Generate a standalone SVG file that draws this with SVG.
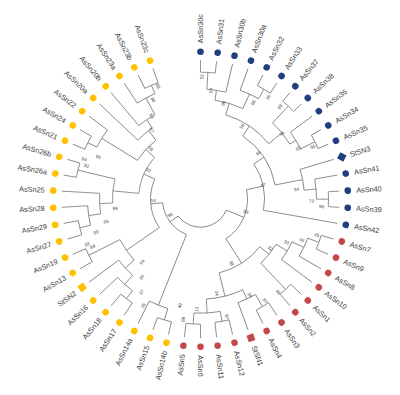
<svg xmlns="http://www.w3.org/2000/svg" width="400" height="395" viewBox="0 0 400 395">
<style>
.c line,.c circle{stroke:#7a7a7a;stroke-width:0.8;fill:none}
.lb{font-family:"Liberation Sans",Arial,sans-serif;font-size:7.3px;fill:#3a3a3a}
.r text{text-anchor:end}
.bs{font-family:"Liberation Sans",Arial,sans-serif;font-size:4.6px;fill:#444;text-anchor:middle}
.Y{fill:#FFC000}.R{fill:#C4484A}.B{fill:#1F3F7F}
</style>
<rect width="400" height="395" fill="#fff"/>
<g transform="translate(200.5,199.2)">
<g id="connectors" class="c">
<!-- radial stems of internal nodes -->
<line x1="110" x2="127" transform="rotate(-86.667)"/>
<line x1="100" x2="110" transform="rotate(-81.667)"/>
<line x1="116" x2="127" transform="rotate(-60)"/>
<line x1="100" x2="116" transform="rotate(-65)"/>
<line x1="88" x2="100" transform="rotate(-73.333)"/>
<line x1="105" x2="128" transform="rotate(-46.667)"/>
<line x1="112" x2="128" transform="rotate(-26.667)"/>
<line x1="105" x2="112" transform="rotate(-31.667)"/>
<line x1="88" x2="105" transform="rotate(-39.167)"/>
<line x1="76" x2="88" transform="rotate(-56.25)"/>
<line x1="116" x2="128" transform="rotate(0)"/>
<line x1="104" x2="116" transform="rotate(-5)"/>
<line x1="76" x2="104" transform="rotate(-10.833)"/>
<line x1="64" x2="76" transform="rotate(-33.542)"/>
<line x1="47" x2="64" transform="rotate(-11.771)"/>
<line x1="28" x2="47" transform="rotate(22.76)"/>
<line x1="114" x2="126" transform="rotate(20)"/>
<line x1="101" x2="114" transform="rotate(25)"/>
<line x1="88" x2="101" transform="rotate(30.833)"/>
<line x1="88" x2="124" transform="rotate(46.667)"/>
<line x1="76" x2="88" transform="rotate(38.75)"/>
<line x1="110" x2="124" transform="rotate(60)"/>
<line x1="100" x2="110" transform="rotate(65)"/>
<line x1="114" x2="124" transform="rotate(80)"/>
<line x1="114" x2="125" transform="rotate(93.333)"/>
<line x1="100" x2="114" transform="rotate(86.667)"/>
<line x1="76" x2="100" transform="rotate(75.833)"/>
<line x1="47" x2="76" transform="rotate(57.292)"/>
<line x1="114" x2="126" transform="rotate(106.667)"/>
<line x1="38" x2="114" transform="rotate(111.667)"/>
<line x1="114" x2="124" transform="rotate(126.667)"/>
<line x1="102" x2="114" transform="rotate(131.667)"/>
<line x1="90" x2="102" transform="rotate(137.5)"/>
<line x1="90" x2="125" transform="rotate(153.333)"/>
<line x1="50" x2="90" transform="rotate(145.417)"/>
<line x1="113" x2="124" transform="rotate(166.667)"/>
<line x1="101" x2="113" transform="rotate(171.667)"/>
<line x1="88" x2="101" transform="rotate(177.5)"/>
<line x1="88" x2="126" transform="rotate(193.333)"/>
<line x1="62" x2="88" transform="rotate(185.417)"/>
<line x1="116" x2="126" transform="rotate(206.667)"/>
<line x1="74" x2="116" transform="rotate(211.667)"/>
<line x1="115" x2="124" transform="rotate(246.667)"/>
<line x1="96" x2="115" transform="rotate(241.667)"/>
<line x1="86" x2="96" transform="rotate(235.833)"/>
<line x1="74" x2="86" transform="rotate(232.917)"/>
<line x1="62" x2="74" transform="rotate(222.292)"/>
<line x1="50" x2="62" transform="rotate(203.854)"/>
<line x1="38" x2="50" transform="rotate(174.635)"/>
<line x1="28" x2="38" transform="rotate(143.151)"/>
<!-- terminal branches -->
<line x1="127" x2="139" transform="rotate(-90)"/>
<line x1="127" x2="139" transform="rotate(-83.333)"/>
<line x1="110" x2="139" transform="rotate(-76.667)"/>
<line x1="116" x2="139" transform="rotate(-70)"/>
<line x1="127" x2="139" transform="rotate(-63.333)"/>
<line x1="127" x2="139" transform="rotate(-56.667)"/>
<line x1="128" x2="139" transform="rotate(-50)"/>
<line x1="128" x2="139" transform="rotate(-43.333)"/>
<line x1="112" x2="139" transform="rotate(-36.667)"/>
<line x1="128" x2="139" transform="rotate(-30)"/>
<line x1="128" x2="139" transform="rotate(-23.333)"/>
<line x1="104" x2="139" transform="rotate(-16.667)"/>
<line x1="116" x2="139" transform="rotate(-10)"/>
<line x1="128" x2="139" transform="rotate(-3.333)"/>
<line x1="128" x2="139" transform="rotate(3.333)"/>
<line x1="64" x2="139" transform="rotate(10)"/>
<line x1="126" x2="139" transform="rotate(16.667)"/>
<line x1="126" x2="139" transform="rotate(23.333)"/>
<line x1="114" x2="139" transform="rotate(30)"/>
<line x1="101" x2="139" transform="rotate(36.667)"/>
<line x1="124" x2="139" transform="rotate(43.333)"/>
<line x1="124" x2="139" transform="rotate(50)"/>
<line x1="124" x2="139" transform="rotate(56.667)"/>
<line x1="124" x2="139" transform="rotate(63.333)"/>
<line x1="110" x2="139" transform="rotate(70)"/>
<line x1="124" x2="139" transform="rotate(76.667)"/>
<line x1="124" x2="139" transform="rotate(83.333)"/>
<line x1="125" x2="139" transform="rotate(90)"/>
<line x1="125" x2="139" transform="rotate(96.667)"/>
<line x1="126" x2="139" transform="rotate(103.333)"/>
<line x1="126" x2="139" transform="rotate(110)"/>
<line x1="114" x2="139" transform="rotate(116.667)"/>
<line x1="124" x2="139" transform="rotate(123.333)"/>
<line x1="124" x2="139" transform="rotate(130)"/>
<line x1="114" x2="139" transform="rotate(136.667)"/>
<line x1="102" x2="139" transform="rotate(143.333)"/>
<line x1="125" x2="139" transform="rotate(150)"/>
<line x1="125" x2="139" transform="rotate(156.667)"/>
<line x1="124" x2="139" transform="rotate(163.333)"/>
<line x1="124" x2="139" transform="rotate(170)"/>
<line x1="113" x2="139" transform="rotate(176.667)"/>
<line x1="101" x2="139" transform="rotate(183.333)"/>
<line x1="126" x2="139" transform="rotate(190)"/>
<line x1="126" x2="139" transform="rotate(196.667)"/>
<line x1="126" x2="139" transform="rotate(203.333)"/>
<line x1="126" x2="139" transform="rotate(210)"/>
<line x1="116" x2="139" transform="rotate(216.667)"/>
<line x1="86" x2="139" transform="rotate(223.333)"/>
<line x1="96" x2="139" transform="rotate(230)"/>
<line x1="115" x2="139" transform="rotate(236.667)"/>
<line x1="124" x2="139" transform="rotate(243.333)"/>
<line x1="124" x2="139" transform="rotate(250)"/>
<!-- arcs -->
<circle r="127" transform="rotate(-90)" stroke-dasharray="14.78 1000"/>
<circle r="110" transform="rotate(-86.667)" stroke-dasharray="19.2 1000"/>
<circle r="127" transform="rotate(-63.333)" stroke-dasharray="14.78 1000"/>
<circle r="116" transform="rotate(-70)" stroke-dasharray="20.25 1000"/>
<circle r="100" transform="rotate(-81.667)" stroke-dasharray="29.09 1000"/>
<circle r="128" transform="rotate(-50)" stroke-dasharray="14.89 1000"/>
<circle r="128" transform="rotate(-30)" stroke-dasharray="14.89 1000"/>
<circle r="112" transform="rotate(-36.667)" stroke-dasharray="19.55 1000"/>
<circle r="105" transform="rotate(-46.667)" stroke-dasharray="27.49 1000"/>
<circle r="88" transform="rotate(-73.333)" stroke-dasharray="52.48 1000"/>
<circle r="128" transform="rotate(-3.333)" stroke-dasharray="14.89 1000"/>
<circle r="116" transform="rotate(-10)" stroke-dasharray="20.25 1000"/>
<circle r="104" transform="rotate(-16.667)" stroke-dasharray="21.18 1000"/>
<circle r="76" transform="rotate(-56.25)" stroke-dasharray="60.24 1000"/>
<circle r="64" transform="rotate(-33.542)" stroke-dasharray="48.64 1000"/>
<circle r="47" transform="rotate(-11.771)" stroke-dasharray="56.65 1000"/>
<circle r="126" transform="rotate(16.667)" stroke-dasharray="14.66 1000"/>
<circle r="114" transform="rotate(20)" stroke-dasharray="19.9 1000"/>
<circle r="101" transform="rotate(25)" stroke-dasharray="20.57 1000"/>
<circle r="124" transform="rotate(43.333)" stroke-dasharray="14.43 1000"/>
<circle r="88" transform="rotate(30.833)" stroke-dasharray="24.32 1000"/>
<circle r="124" transform="rotate(56.667)" stroke-dasharray="14.43 1000"/>
<circle r="110" transform="rotate(60)" stroke-dasharray="19.2 1000"/>
<circle r="124" transform="rotate(76.667)" stroke-dasharray="14.43 1000"/>
<circle r="125" transform="rotate(90)" stroke-dasharray="14.55 1000"/>
<circle r="114" transform="rotate(80)" stroke-dasharray="26.53 1000"/>
<circle r="100" transform="rotate(65)" stroke-dasharray="37.82 1000"/>
<circle r="76" transform="rotate(38.75)" stroke-dasharray="49.19 1000"/>
<circle r="126" transform="rotate(103.333)" stroke-dasharray="14.66 1000"/>
<circle r="114" transform="rotate(106.667)" stroke-dasharray="19.9 1000"/>
<circle r="124" transform="rotate(123.333)" stroke-dasharray="14.43 1000"/>
<circle r="114" transform="rotate(126.667)" stroke-dasharray="19.9 1000"/>
<circle r="102" transform="rotate(131.667)" stroke-dasharray="20.77 1000"/>
<circle r="125" transform="rotate(150)" stroke-dasharray="14.55 1000"/>
<circle r="90" transform="rotate(137.5)" stroke-dasharray="24.87 1000"/>
<circle r="124" transform="rotate(163.333)" stroke-dasharray="14.43 1000"/>
<circle r="113" transform="rotate(166.667)" stroke-dasharray="19.72 1000"/>
<circle r="101" transform="rotate(171.667)" stroke-dasharray="20.57 1000"/>
<circle r="126" transform="rotate(190)" stroke-dasharray="14.66 1000"/>
<circle r="88" transform="rotate(177.5)" stroke-dasharray="24.32 1000"/>
<circle r="126" transform="rotate(203.333)" stroke-dasharray="14.66 1000"/>
<circle r="116" transform="rotate(206.667)" stroke-dasharray="20.25 1000"/>
<circle r="124" transform="rotate(243.333)" stroke-dasharray="14.43 1000"/>
<circle r="115" transform="rotate(236.667)" stroke-dasharray="20.07 1000"/>
<circle r="96" transform="rotate(230)" stroke-dasharray="19.55 1000"/>
<circle r="86" transform="rotate(223.333)" stroke-dasharray="18.76 1000"/>
<circle r="74" transform="rotate(211.667)" stroke-dasharray="27.45 1000"/>
<circle r="62" transform="rotate(185.417)" stroke-dasharray="39.9 1000"/>
<circle r="50" transform="rotate(145.417)" stroke-dasharray="51 1000"/>
<circle r="38" transform="rotate(111.667)" stroke-dasharray="41.76 1000"/>
<circle r="28" transform="rotate(22.76)" stroke-dasharray="58.83 1000"/>
</g>
<g id="bootstrap" class="bs">
<text transform="rotate(-89.4)" x="122.5" dy="1.6">52</text>
<text transform="rotate(-84.5)" x="109" dy="1.6">54</text>
<text transform="rotate(-76.6)" x="98.6" dy="1.6">96</text>
<text transform="rotate(-61.3)" x="110" dy="1.6">86</text>
<text transform="rotate(-56.4)" x="122.4" dy="1.6">95</text>
<text transform="rotate(-49.3)" x="122" dy="1.6">98</text>
<text transform="rotate(-60.4)" x="84" dy="1.6">58</text>
<text transform="rotate(-39)" x="104.6" dy="1.6">36</text>
<text transform="rotate(-27.5)" x="110.3" dy="1.6">82</text>
<text transform="rotate(-25)" x="124" dy="1.6">55</text>
<text transform="rotate(-38.5)" x="73.8" dy="1.6">48</text>
<text transform="rotate(-5.9)" x="96.7" dy="1.6">54</text>
<text transform="rotate(1)" x="111.2" dy="1.6">72</text>
<text transform="rotate(3.5)" x="121.4" dy="1.6">99</text>
<text transform="rotate(-12.7)" x="64.4" dy="1.6">97</text>
<text transform="rotate(15.4)" x="47.2" dy="1.6">99</text>
<text transform="rotate(17.1)" x="121.6" dy="1.6">45</text>
<text transform="rotate(22)" x="109.1" dy="1.6">46</text>
<text transform="rotate(26.6)" x="96.4" dy="1.6">93</text>
<text transform="rotate(35.2)" x="85.1" dy="1.6">32</text>
<text transform="rotate(50.1)" x="121.3" dy="1.6">96</text>
<text transform="rotate(64)" x="71.3" dy="1.6">98</text>
<text transform="rotate(57.6)" x="120.5" dy="1.6">97</text>
<text transform="rotate(62.7)" x="107.8" dy="1.6">34</text>
<text transform="rotate(80.2)" x="95.5" dy="1.6">34</text>
<text transform="rotate(77.4)" x="120.4" dy="1.6">97</text>
<text transform="rotate(272)" x="-110.2" dy="1.6">13</text>
<text transform="rotate(278.2)" x="-121.3" dy="1.6">88</text>
<text transform="rotate(280.9)" x="-108.5" dy="1.6">49</text>
<text transform="rotate(298.2)" x="-121" dy="1.6">35</text>
<text transform="rotate(302.4)" x="-110" dy="1.6">87</text>
<text transform="rotate(307)" x="-97.8" dy="1.6">95</text>
<text transform="rotate(313)" x="-85.8" dy="1.6">84</text>
<text transform="rotate(338.3)" x="-121.9" dy="1.6">93</text>
<text transform="rotate(336.2)" x="-118" dy="1.6">89</text>
<text transform="rotate(342.4)" x="-109.6" dy="1.6">99</text>
<text transform="rotate(346.6)" x="-97.1" dy="1.6">66</text>
<text transform="rotate(353.9)" x="-85.9" dy="1.6">99</text>
<text transform="rotate(358.2)" x="-47.2" dy="1.6">54</text>
<text transform="rotate(332.6)" x="-34.3" dy="1.6">98</text>
<text transform="rotate(29.2)" x="-59.8" dy="1.6">93</text>
<text transform="rotate(19)" x="-122.9" dy="1.6">84</text>
<text transform="rotate(16.4)" x="-119" dy="1.6">92</text>
<text transform="rotate(22.6)" x="-110.7" dy="1.6">95</text>
<text transform="rotate(45.6)" x="-71.2" dy="1.6">59</text>
<text transform="rotate(54.8)" x="-84.7" dy="1.6">67</text>
<text transform="rotate(59.6)" x="-96.5" dy="1.6">63</text>
<text transform="rotate(64.6)" x="-110" dy="1.6">86</text>
<text transform="rotate(69.5)" x="-120.8" dy="1.6">88</text>
</g>
<g class="lb">
<g id="AsSn30c" transform="rotate(-90)"><circle class="B" cx="147.5" r="3.3"/><text x="156" dy="2.6">AsSn30c</text></g>
<g id="AsSn31" transform="rotate(-83.333)"><circle class="B" cx="147.5" r="3.3"/><text x="156" dy="2.6">AsSn31</text></g>
<g id="AsSn30b" transform="rotate(-76.667)"><circle class="B" cx="147.5" r="3.3"/><text x="156" dy="2.6">AsSn30b</text></g>
<g id="AsSn30a" transform="rotate(-70)"><circle class="B" cx="147.5" r="3.3"/><text x="156" dy="2.6">AsSn30a</text></g>
<g id="AsSn32" transform="rotate(-63.333)"><circle class="B" cx="147.5" r="3.3"/><text x="156" dy="2.6">AsSn32</text></g>
<g id="AsSn33" transform="rotate(-56.667)"><circle class="B" cx="147.5" r="3.3"/><text x="156" dy="2.6">AsSn33</text></g>
<g id="AsSn37" transform="rotate(-50)"><circle class="B" cx="147.5" r="3.3"/><text x="156" dy="2.6">AsSn37</text></g>
<g id="AsSn38" transform="rotate(-43.333)"><circle class="B" cx="147.5" r="3.3"/><text x="156" dy="2.6">AsSn38</text></g>
<g id="AsSn36" transform="rotate(-36.667)"><circle class="B" cx="147.5" r="3.3"/><text x="156" dy="2.6">AsSn36</text></g>
<g id="AsSn34" transform="rotate(-30)"><circle class="B" cx="147.5" r="3.3"/><text x="156" dy="2.6">AsSn34</text></g>
<g id="AsSn35" transform="rotate(-23.333)"><circle class="B" cx="147.5" r="3.3"/><text x="156" dy="2.6">AsSn35</text></g>
<g id="StSN3" transform="rotate(-16.667)"><rect class="B" x="144" y="-3.5" width="7" height="7" transform="rotate(45 147.5 0)"/><text x="156" dy="2.6">StSN3</text></g>
<g id="AsSn41" transform="rotate(-10)"><circle class="B" cx="147.5" r="3.3"/><text x="156" dy="2.6">AsSn41</text></g>
<g id="AsSn40" transform="rotate(-3.333)"><circle class="B" cx="147.5" r="3.3"/><text x="156" dy="2.6">AsSn40</text></g>
<g id="AsSn39" transform="rotate(3.333)"><circle class="B" cx="147.5" r="3.3"/><text x="156" dy="2.6">AsSn39</text></g>
<g id="AsSn42" transform="rotate(10)"><circle class="B" cx="147.5" r="3.3"/><text x="156" dy="2.6">AsSn42</text></g>
<g id="AsSn7" transform="rotate(16.667)"><circle class="R" cx="147.5" r="3.3"/><text x="156" dy="2.6">AsSn7</text></g>
<g id="AsSn9" transform="rotate(23.333)"><circle class="R" cx="147.5" r="3.3"/><text x="156" dy="2.6">AsSn9</text></g>
<g id="AsSn8" transform="rotate(30)"><circle class="R" cx="147.5" r="3.3"/><text x="156" dy="2.6">AsSn8</text></g>
<g id="AsSn10" transform="rotate(36.667)"><circle class="R" cx="147.5" r="3.3"/><text x="156" dy="2.6">AsSn10</text></g>
<g id="AsSn1" transform="rotate(43.333)"><circle class="R" cx="147.5" r="3.3"/><text x="156" dy="2.6">AsSn1</text></g>
<g id="AsSn2" transform="rotate(50)"><circle class="R" cx="147.5" r="3.3"/><text x="156" dy="2.6">AsSn2</text></g>
<g id="AsSn3" transform="rotate(56.667)"><circle class="R" cx="147.5" r="3.3"/><text x="156" dy="2.6">AsSn3</text></g>
<g id="AsSn4" transform="rotate(63.333)"><circle class="R" cx="147.5" r="3.3"/><text x="156" dy="2.6">AsSn4</text></g>
<g id="StSN1" transform="rotate(70)"><rect class="R" x="144" y="-3.5" width="7" height="7"/><text x="156" dy="2.6">StSN1</text></g>
<g id="AsSn12" transform="rotate(76.667)"><circle class="R" cx="147.5" r="3.3"/><text x="156" dy="2.6">AsSn12</text></g>
<g id="AsSn11" transform="rotate(83.333)"><circle class="R" cx="147.5" r="3.3"/><text x="156" dy="2.6">AsSn11</text></g>
<g id="AsSn6" transform="rotate(90)"><circle class="R" cx="147.5" r="3.3"/><text x="156" dy="2.6">AsSn6</text></g>
<g class="r">
<g id="AsSn5" transform="rotate(276.667)"><circle class="R" cx="-147.5" r="3.3"/><text x="-156" dy="2.6">AsSn5</text></g>
<g id="AsSn14b" transform="rotate(283.333)"><circle class="Y" cx="-147.5" r="3.3"/><text x="-156" dy="2.6">AsSn14b</text></g>
<g id="AsSn15" transform="rotate(290)"><circle class="Y" cx="-147.5" r="3.3"/><text x="-156" dy="2.6">AsSn15</text></g>
<g id="AsSn14a" transform="rotate(296.667)"><circle class="Y" cx="-147.5" r="3.3"/><text x="-156" dy="2.6">AsSn14a</text></g>
<g id="AsSn17" transform="rotate(303.333)"><circle class="Y" cx="-147.5" r="3.3"/><text x="-156" dy="2.6">AsSn17</text></g>
<g id="AsSn18" transform="rotate(310)"><circle class="Y" cx="-147.5" r="3.3"/><text x="-156" dy="2.6">AsSn18</text></g>
<g id="AsSn16" transform="rotate(316.667)"><circle class="Y" cx="-147.5" r="3.3"/><text x="-156" dy="2.6">AsSn16</text></g>
<g id="StSN2" transform="rotate(323.333)"><rect class="Y" x="-151" y="-3.5" width="7" height="7"/><text x="-156" dy="2.6">StSN2</text></g>
<g id="AsSn13" transform="rotate(330)"><circle class="Y" cx="-147.5" r="3.3"/><text x="-156" dy="2.6">AsSn13</text></g>
<g id="AsSn19" transform="rotate(336.667)"><circle class="Y" cx="-147.5" r="3.3"/><text x="-156" dy="2.6">AsSn19</text></g>
<g id="AsSn27" transform="rotate(343.333)"><circle class="Y" cx="-147.5" r="3.3"/><text x="-156" dy="2.6">AsSn27</text></g>
<g id="AsSn29" transform="rotate(350)"><circle class="Y" cx="-147.5" r="3.3"/><text x="-156" dy="2.6">AsSn29</text></g>
<g id="AsSn28" transform="rotate(356.667)"><circle class="Y" cx="-147.5" r="3.3"/><text x="-156" dy="2.6">AsSn28</text></g>
<g id="AsSn25" transform="rotate(3.333)"><circle class="Y" cx="-147.5" r="3.3"/><text x="-156" dy="2.6">AsSn25</text></g>
<g id="AsSn26a" transform="rotate(10)"><circle class="Y" cx="-147.5" r="3.3"/><text x="-156" dy="2.6">AsSn26a</text></g>
<g id="AsSn26b" transform="rotate(16.667)"><circle class="Y" cx="-147.5" r="3.3"/><text x="-156" dy="2.6">AsSn26b</text></g>
<g id="AsSn21" transform="rotate(23.333)"><circle class="Y" cx="-147.5" r="3.3"/><text x="-156" dy="2.6">AsSn21</text></g>
<g id="AsSn24" transform="rotate(30)"><circle class="Y" cx="-147.5" r="3.3"/><text x="-156" dy="2.6">AsSn24</text></g>
<g id="AsSn22" transform="rotate(36.667)"><circle class="Y" cx="-147.5" r="3.3"/><text x="-156" dy="2.6">AsSn22</text></g>
<g id="AsSn20a" transform="rotate(43.333)"><circle class="Y" cx="-147.5" r="3.3"/><text x="-156" dy="2.6">AsSn20a</text></g>
<g id="AsSn20b" transform="rotate(50)"><circle class="Y" cx="-147.5" r="3.3"/><text x="-156" dy="2.6">AsSn20b</text></g>
<g id="AsSn23a" transform="rotate(56.667)"><circle class="Y" cx="-147.5" r="3.3"/><text x="-156" dy="2.6">AsSn23a</text></g>
<g id="AsSn23b" transform="rotate(63.333)"><circle class="Y" cx="-147.5" r="3.3"/><text x="-156" dy="2.6">AsSn23b</text></g>
<g id="AsSn23c" transform="rotate(70)"><circle class="Y" cx="-147.5" r="3.3"/><text x="-156" dy="2.6">AsSn23c</text></g>
</g>
</g>
</g>
</svg>
